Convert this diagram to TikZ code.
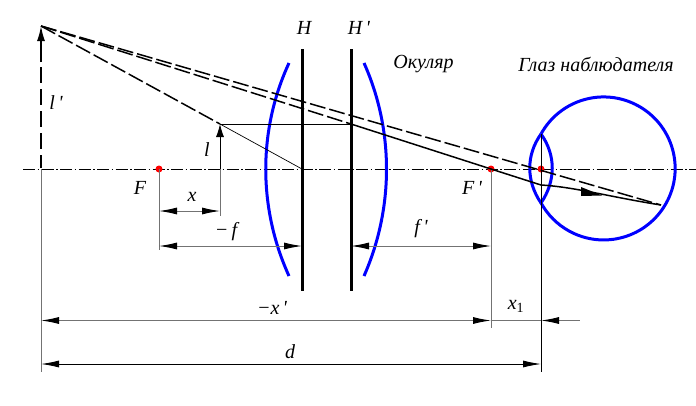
\documentclass[tikz,border=0pt]{standalone}
\usepackage{fontspec}
\newfontfamily\lblfont{Liberation Serif}
\setmainfont{Liberation Serif}
\usetikzlibrary{arrows.meta}
\tikzset{
  x=1pt,y=-1pt,
  lbl/.style={inner sep=0pt,font=\fontsize{20}{22}\lblfont\itshape},
  dim/.style={draw=black!55,line width=1pt},
  dimk/.style={draw=black,line width=0.9pt},
  tips/.style={{Latex[length=18pt,width=7pt,black]}-{Latex[length=18pt,width=7pt,black]}},
  ltip/.style={{Latex[length=18pt,width=7pt,black]}-},
  lens/.style={draw=blue,line width=3pt},
  plane/.style={draw=black,line width=3pt},
  ray/.style={draw=black,line width=1.5pt},
  dray/.style={draw=black,line width=1.5pt,dash pattern=on 16pt off 4pt},
  axisl/.style={draw=black,line width=0.6pt,dash pattern=on 12pt off 2.5pt on 1.5pt off 2.5pt},
  focus/.style={circle,fill=red,inner sep=0pt,minimum size=7pt},
}
\begin{document}
\begin{tikzpicture}
\useasboundingbox (0,0) rectangle (696,405);
\fill[white] (0,0) rectangle (696,405);
% key points
\coordinate (A) at (41,26);
\coordinate (A0) at (41,168);
\coordinate (Ad) at (41,67);
\coordinate (An) at (41,62);
\coordinate (Ax) at (41,169);
\coordinate (Ab) at (41,372);
\coordinate (L) at (220,124);
\coordinate (L0) at (220,169);
\coordinate (Lb) at (220,216);
\coordinate (Fb) at (159,250);
\coordinate (Hc) at (302,169);
\coordinate (Hp) at (351,124);
\coordinate (K) at (541,185);
\coordinate (R) at (661,205);
\coordinate (Pt) at (541,134);
\coordinate (Pm) at (541,203);
\coordinate (Pb) at (541,372);
\coordinate (Fpb) at (491,328);
\coordinate (AxL) at (23,169);
\coordinate (AxR) at (696,169);
% axis
\draw[axisl] (AxL) -- (AxR);
% eye and lenses
\draw[lens] (Pt) arc[start angle=-151.2,end angle=151.2,radius=71.5];
\draw[lens] (Pt) .. controls (526,155) and (526,181) .. (Pm);
\draw[lens] (Pt) .. controls (556,155) and (556,181) .. (Pm);
\draw[lens] (289,63) .. controls (258,130) and (258,208) .. (289,276);
\draw[lens] (364,63) .. controls (394,130) and (394,208) .. (364,276);
% principal planes
\draw[plane] (302,49) -- (302,291);
\draw[plane] (351,49) -- (351,291);
% extension lines
\draw[dim] (Ax) -- (Ab);
\draw[dim] (L0) -- (Lb);
\node[focus] (F) at (159,169) {};
\node[focus] (Fp) at (491,169) {};
\node[focus] (P) at (541,169) {};
\draw[dim] (F.center) -- (Fb);
\draw[dim,line width=0.8pt] (Fp.center) -- (Fpb);
\draw[dimk,line width=0.7pt] (Pt) -- (Pb);
% rays
\draw[dray] (A) -- (Hp);
\draw[dray] (A) -- (R);
\draw[dray] (A) -- (L);
\draw[dray,line width=1.5pt,dash pattern=on 16pt off 6pt] (Ad) -- (A0);
\draw[-{Latex[length=15pt,width=8pt,black]},draw=black,line width=1.5pt] (An) -- (A);
\draw[-{Latex[length=13pt,width=8pt,black]},draw=black,line width=0.8pt] (L0) -- (L);
\draw[draw=black,line width=0.7pt] (L) -- (Hc);
\draw[draw=black,line width=0.9pt] (L) -- (Hp);
\draw[ray] (Hp) -- (Fp.center) -- (K) .. controls (575,187) and (610,197) .. (R);
\fill[black] (581,187) -- (602,195.5) -- (581,196) -- cycle;
% dimensions
\draw[dim,tips] (159,211) -- (220,211);
\draw[dim,tips] (159,246) -- (302,246);
\draw[dim,tips] (351,246) -- (491,246);
\draw[dim,tips] (41,320.5) -- (491,320.5);
\draw[dim,ltip] (541,320.5) -- (580,320.5);
\draw[dim] (491,320.5) -- (541,320.5);
\draw[dimk,tips] (41,364) -- (541,364);
% labels
\node[lbl] (tH) at (304,28) {H};
\node[lbl] (tHp) at (359,28) {H\,'};
\node[lbl] (tOk) at (423.5,64) {Окуляр};
\node[lbl] (tEye) at (596,64) {Глаз наблюдателя};
\node[lbl] (tlp) at (56,103) {l\,'};
\node[lbl] (tl) at (207,150) {l};
\node[lbl] (tF) at (140,188) {F};
\node[lbl] (tFp) at (472,188) {F\,'};
\node[lbl] (tx) at (192,197) {x};
\node[lbl] (tmf) at (226,232) {−\,f};
\node[lbl] (tfp) at (421,229) {f\,'};
\node[lbl] (tmxp) at (272,308) {−x\,'};
\node[lbl] (tx1) at (516,306) {x\textsubscript{\upshape 1}};
\node[lbl] (td) at (290,352) {d};
\end{tikzpicture}
\end{document}
